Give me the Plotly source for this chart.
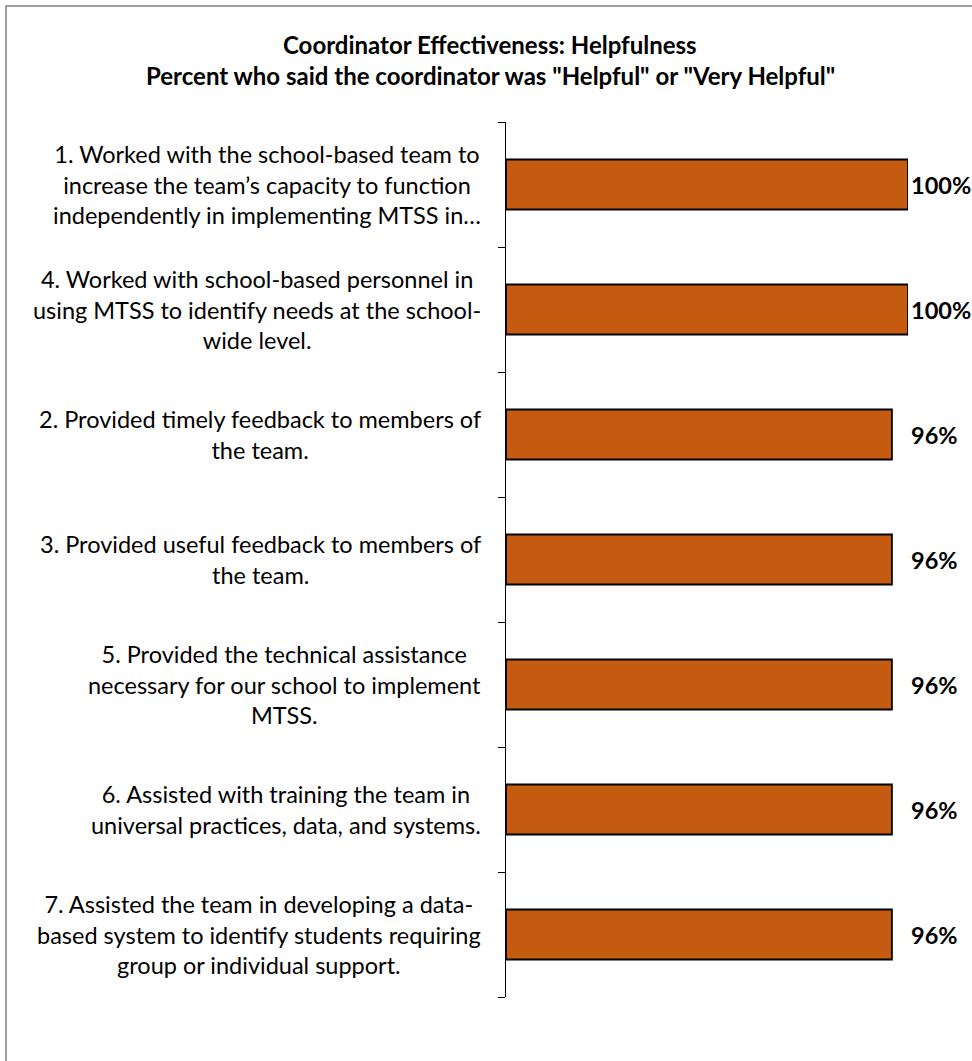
import plotly.graph_objects as go

# Survey items (top to bottom) and share answering "Helpful"/"Very Helpful"
ITEMS = [
    "1. Worked with the school-based team to<br>increase the team\u2019s capacity to function<br>independently in implementing MTSS in\u2026",
    "4. Worked with school-based personnel in<br>using MTSS to identify needs at the school-<br>wide level.",
    "2. Provided timely feedback to members of<br>the team.",
    "3. Provided useful feedback to members of<br>the team.",
    "5. Provided the technical assistance<br>necessary for our school to implement<br>MTSS.",
    "6. Assisted with training the team in<br>universal practices, data, and systems.",
    "7. Assisted the team in developing a data-<br>based system to identify students requiring<br>group or individual support.",
]
VALUES = [100, 100, 96, 96, 96, 96, 96]
TITLE_LINES = [
    "Coordinator Effectiveness: Helpfulness",
    "Percent who said the coordinator was \"Helpful\" or \"Very Helpful\"",
]

W, H = 972, 1061
L, R, T, B = 506, 64, 122, 64
PW, PH = W - L - R, H - T - B

def px_x(px):
    return (px - L) / PW

def px_y(py):
    return (H - B - py) / PH

FONT = "Lato"
BAR = "#C55A11"

pos = list(range(len(ITEMS)))

fig = go.Figure(
    go.Bar(
        x=VALUES,
        y=pos,
        orientation="h",
        marker=dict(color=BAR, line=dict(color="#000000", width=1.8)),
        width=0.4,
        hoverinfo="skip",
    )
)

annotations = []
# category labels: block right-aligned next to the axis, lines centred in the block
for i, lab in enumerate(ITEMS):
    annotations.append(dict(
        x=px_x(483), xref="paper", y=i, yref="y",
        text=lab, showarrow=False, xanchor="right", yanchor="middle",
        align="center", font=dict(family=FONT, size=23.5, color="#000000"),
    ))
# value labels just past the longest bar
vmax = max(VALUES)
for i, v in enumerate(VALUES):
    annotations.append(dict(
        x=vmax, xref="x", y=i, yref="y",
        text=f"<b>{v}%</b>", showarrow=False, xanchor="left", yanchor="middle",
        xshift=1, font=dict(family=FONT, size=23.5, color="#000000"),
    ))
# two-line bold title
for line, py in zip(TITLE_LINES, [45, 75]):
    annotations.append(dict(
        x=px_x(490), xref="paper", y=px_y(py), yref="paper",
        text="<b>" + line + "</b>",
        showarrow=False, xanchor="center", yanchor="middle",
        font=dict(family=FONT, size=24, color="#000000"),
    ))

n = len(ITEMS)
fig.update_layout(
    width=W, height=H,
    margin=dict(l=L, r=R, t=T, b=B, pad=0),
    paper_bgcolor="white", plot_bgcolor="white",
    showlegend=False,
    xaxis=dict(range=[0, 100], visible=False, fixedrange=True),
    yaxis=dict(
        range=[n - 0.5, -0.5], showline=True, linecolor="#000000", linewidth=1,
        tickmode="array", tickvals=[k - 0.5 for k in range(n + 1)],
        ticktext=[""] * (n + 1), ticks="outside", ticklen=7, tickcolor="#000000",
        tickwidth=1, showgrid=False, zeroline=False, fixedrange=True,
    ),
    annotations=annotations,
    shapes=[dict(
        type="rect", xref="paper", yref="paper",
        x0=px_x(6), x1=px_x(W + 10), y0=px_y(H + 10), y1=px_y(6),
        line=dict(color="#808080", width=1.5), fillcolor="rgba(0,0,0,0)",
        layer="above",
    )],
)

fig.write_html("out.html", config={"displayModeBar": False})
